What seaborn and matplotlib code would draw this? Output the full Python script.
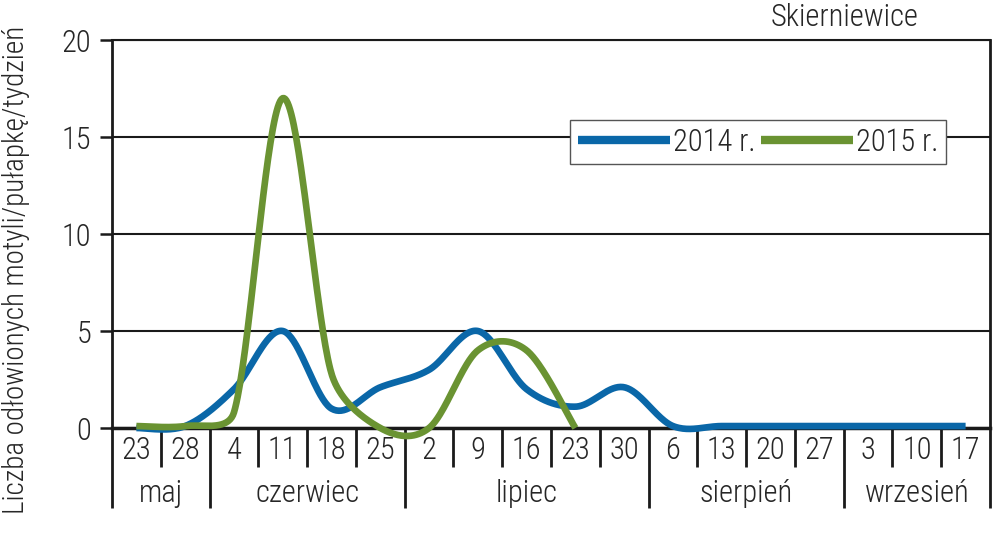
"""
Skierniewice: moth catches per trap per week, 2014 vs 2015 (smoothed lines).
"""
import numpy as np
import pandas as pd
import matplotlib
matplotlib.use('Agg')
import matplotlib.pyplot as plt
from matplotlib import font_manager
import seaborn as sns

# week labels (day of month) and months they belong to
DAYS = ['23', '28', '4', '11', '18', '25', '2', '9', '16', '23', '30',
        '6', '13', '20', '27', '3', '10', '17']
MONTHS = ['maj', 'czerwiec', 'lipiec', 'sierpień', 'wrzesień']
MONTH_LEN = [2, 4, 5, 4, 3]

# catches per trap per week
Y2014 = [0.0, 0.1, 2.0, 5.0, 1.0, 2.1, 3.0, 5.0, 2.0, 1.1, 2.1,
         0.1, 0.1, 0.1, 0.1, 0.1, 0.1, 0.1]
Y2015 = [0.1, 0.1, 0.8, 17.0, 2.8, 0.0, 0.0, 4.0, 4.0, 0.0]

BLUE = '#0a67a8'
GREEN = '#6a9332'

# px per category / per unit, used only for the curve shape
SX, SY = 48.8, 19.4

sns.set_style('white')

# the reference uses a condensed face; take one if the system has it
narrow = None
names = sorted({f.name for f in font_manager.fontManager.ttflist})
for cand in ['Liberation Sans Narrow', 'Roboto Condensed', 'Open Sans Condensed',
             'Noto Sans Condensed', 'DejaVu Sans Condensed']:
    if cand in names:
        narrow = cand
        break
if narrow is None:
    for f in font_manager.fontManager.ttflist:
        if ('Narrow' in f.name or 'Condensed' in f.name):
            narrow = f.name
            break
if narrow is None:
    narrow = 'DejaVu Sans'
    FS = 17
else:
    FS = 22
plt.rcParams['font.family'] = [narrow, 'DejaVu Sans']
plt.rcParams['font.weight'] = 'light'
plt.rcParams['font.size'] = FS


def smooth(y, n=40, a=0.4):
    """Bezier curve through the points with Excel-like limited control arms."""
    P = np.column_stack([np.arange(len(y)) * SX, np.asarray(y, float) * SY])
    Q = np.vstack([P[0], P, P[-1]])
    out = []
    t = np.linspace(0, 1, n, endpoint=False)[:, None]
    for i in range(len(P) - 1):
        p0, p1, p2, p3 = Q[i], Q[i + 1], Q[i + 2], Q[i + 3]
        seg = np.linalg.norm(p2 - p1)
        t1 = (p2 - p0) / 6
        t2 = (p3 - p1) / 6
        for tt in (t1, t2):
            L = np.linalg.norm(tt)
            if L > a * seg and L > 0:
                tt *= a * seg / L
        c1, c2 = p1 + t1, p2 - t2
        b = ((1 - t) ** 3 * p1 + 3 * (1 - t) ** 2 * t * c1
             + 3 * (1 - t) * t ** 2 * c2 + t ** 3 * p2)
        out.append(b)
    out.append(P[-1:])
    out = np.vstack(out)
    return out[:, 0] / SX, out[:, 1] / SY


x14, s14 = smooth(Y2014)
x15, s15 = smooth(Y2015)
df = pd.concat([
    pd.DataFrame({'x': x14, 'y': s14, 'rok': '2014 r.'}),
    pd.DataFrame({'x': x15, 'y': s15, 'rok': '2015 r.'}),
])

fig = plt.figure(figsize=(10, 5.4), dpi=100)
ax = fig.add_axes([0.112, 0.2074, 0.878, 0.7185])

for rok, col in [('2014 r.', BLUE), ('2015 r.', GREEN)]:
    sub = df[df['rok'] == rok]
    sns.lineplot(data=sub, x='x', y='y', ax=ax, color=col, lw=4.8,
                 sort=False, label=rok, clip_on=False, zorder=3,
                 solid_capstyle='butt')

ax.set_xlim(-0.5, len(DAYS) - 0.5)
ax.set_ylim(0, 20)
ax.set_yticks([0, 5, 10, 15, 20])
ax.set_yticklabels(['0', '5', '10', '15', '20'])
ax.set_xticks([])
ax.set_xlabel('')
ax.set_ylabel('')
ax.yaxis.grid(True, color='#1a1a1a', lw=1.5)
ax.tick_params(axis='y', direction='out', length=9, width=1.8,
               color='#1a1a1a', pad=6, left=True)

for side in ['left', 'right', 'top', 'bottom']:
    ax.spines[side].set_visible(True)
    ax.spines[side].set_color('#1a1a1a')
ax.spines['left'].set_linewidth(2)
ax.spines['right'].set_linewidth(2)
ax.spines['top'].set_linewidth(1.5)
ax.spines['bottom'].set_linewidth(2.5)

# category axis: day labels, separators, month labels
trans = ax.get_xaxis_transform()
month_edges = np.cumsum([0] + MONTH_LEN) - 0.5
for b in np.arange(-0.5, len(DAYS), 1.0):
    long_line = np.any(np.isclose(b, month_edges))
    ax.plot([b, b], [0, -0.206 if long_line else -0.1005], transform=trans,
            color='#1a1a1a', lw=2, clip_on=False, solid_capstyle='butt')
for i, d in enumerate(DAYS):
    ax.text(i, -0.059, d, transform=trans, ha='center', va='center')
for m, lo, n in zip(MONTHS, month_edges[:-1], MONTH_LEN):
    ax.text(lo + n / 2, -0.17, m, transform=trans, ha='center', va='center')

leg = ax.legend(loc='center', bbox_to_anchor=(0.736, 0.737), ncol=2,
                frameon=True, fancybox=False, edgecolor='#555555', framealpha=1,
                handlelength=3.0, handletextpad=0.1, columnspacing=0.2,
                borderpad=0.25, borderaxespad=0)
for h in leg.get_lines():
    h.set_linewidth(6)

fig.text(0.918, 0.968, 'Skierniewice', ha='right', va='center')
fig.text(0.016, 0.50, 'Liczba odłowionych motyli/pułapkę/tydzień',
         rotation=90, ha='center', va='center', fontsize=FS - 1)

fig.savefig('out.png', dpi=100)
